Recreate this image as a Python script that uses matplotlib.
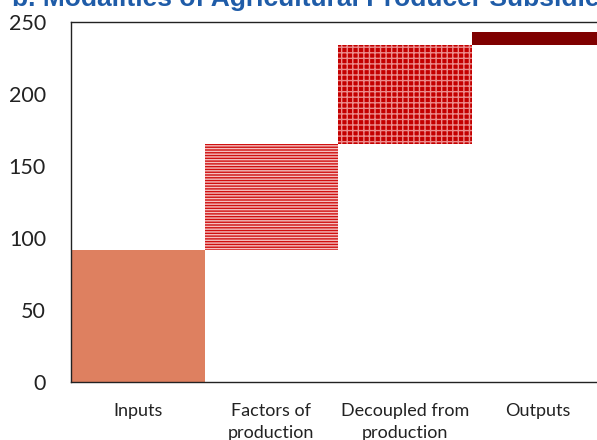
import numpy as np
import matplotlib
matplotlib.use("Agg")
import matplotlib.pyplot as plt

# Waterfall data
categories = ["Inputs", "Factors of\nproduction", "Decoupled from\nproduction", "Outputs"]
values = [92, 73, 69, 9]
y_ticks = [0, 50, 100, 150, 200, 250]

bottoms = np.concatenate([[0], np.cumsum(values)[:-1]])

plt.rcParams["font.family"] = ["Lato", "DejaVu Sans"]
plt.rcParams["hatch.linewidth"] = 1.0

fig = plt.figure(figsize=(5.97, 4.40), dpi=100)
ax = fig.add_axes([71 / 597, 1 - 382 / 440, (605 - 71) / 597, 360 / 440])

x = np.arange(len(categories))
styles = [
    dict(color="#DE8060", linewidth=0),
    dict(facecolor="#D01010", edgecolor="#F4C0C0", hatch="------", linewidth=0),
    dict(facecolor="#C40000", edgecolor="#EC8C8C", hatch="+++", linewidth=0),
    dict(color="#7F0000", linewidth=0),
]
for xi, v, b, st in zip(x, values, bottoms, styles):
    ax.bar(xi, v, bottom=b, width=1.0, **st)

ax.set_xlim(-0.5, 3.5)
ax.set_ylim(0, 250)
ax.set_yticks(y_ticks)
ax.set_xticks(x)
ax.set_xticklabels(categories, fontsize=13, linespacing=1.5)
ax.tick_params(axis="y", length=0, pad=18, labelsize=15.5)
ax.tick_params(axis="x", length=0, pad=15)
for lab in ax.get_yticklabels():
    lab.set_color("#222222")
for lab in ax.get_xticklabels():
    lab.set_color("#222222")
ax.spines["right"].set_visible(False)
for s in ["left", "top", "bottom"]:
    ax.spines[s].set_linewidth(1.0)
    ax.spines[s].set_color("#222222")

fig.text(12 / 597, 1 - 6 / 440, "b. Modalities of Agricultural Producer Subsidies",
         color="#1F5CA8", fontsize=19, fontweight="bold", family="Liberation Sans",
         va="baseline", ha="left")

fig.savefig("out.png", dpi=100)
